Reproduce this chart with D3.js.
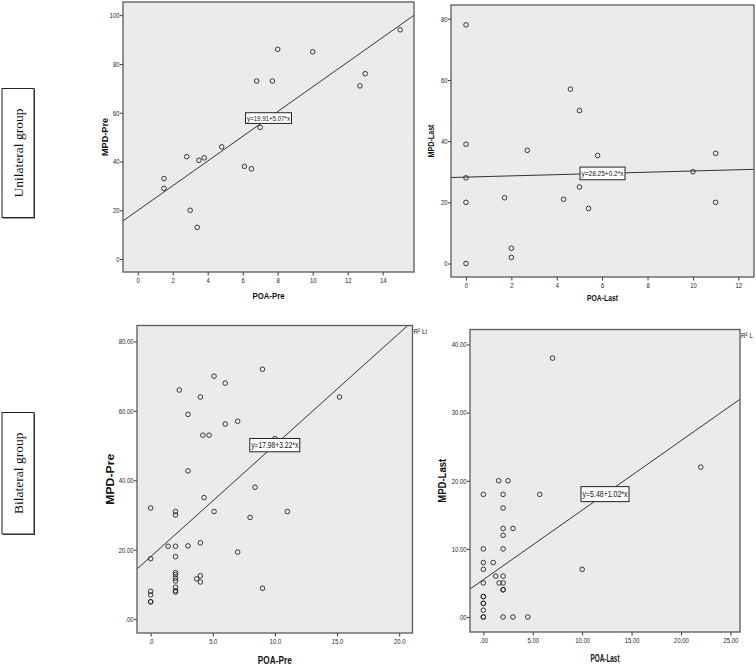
<!DOCTYPE html>
<html>
<head>
<meta charset="utf-8">
<script src="https://cdn.jsdelivr.net/npm/d3@7"></script>
<style>
  body { margin: 0; background: #fff; }
  svg { display: block; }
</style>
</head>
<body>
<svg id="chart" width="756" height="665"></svg>
<script>
// ---------- DATA ----------
const rowLabels = ["Unilateral group", "Bilateral group"];

const uniPreX = [1.5, 1.5, 2.8, 3.0, 3.4, 3.5, 3.8, 4.8, 6.1, 6.5, 6.8, 7.0, 7.7, 8.0, 10.0, 12.7, 13.0, 15.0];
const uniPreY = [33, 29, 42, 20, 13, 40.5, 41.5, 46, 38, 37, 73, 54, 73, 86, 85, 71, 76, 94];

const uniLastX = [0, 0, 0, 0, 0, 1.7, 2, 2, 2.7, 4.3, 4.6, 5, 5, 5.4, 5.8, 10, 11, 11];
const uniLastY = [78, 39, 28, 20, 0, 21.5, 5, 2, 37, 21, 57, 50, 25, 18, 35.3, 30, 36, 20];

const biPreX = [0, 0, 0, 0, 0, 0, 1.4,
  2, 2, 2, 2, 2, 2, 2, 2, 2, 2, 2,
  2.3, 3, 3, 3, 3.7, 4, 4, 4, 4, 4.2, 4.3, 4.7, 5.1, 5.1, 6, 6, 7, 7, 8, 8.4, 9, 9, 10, 11, 15.2];
const biPreY = [32, 17.4, 8, 7, 5, 5, 21,
  31, 30, 21, 18, 13.4, 12.8, 11.8, 11, 9.2, 8.2, 7.8,
  66, 59, 42.7, 21.1, 11.6, 64, 22, 12.5, 10.7, 53, 35, 53, 70, 31, 68, 56.2, 57, 19.3, 29.3, 38, 72, 8.9, 52, 31, 64];

const biLastX = [0, 0, 0, 0, 0, 0, 0, 0, 0, 0, 0, 0,
  1, 1.25, 1.55, 1.6,
  2, 2, 2, 2, 2, 2, 2, 2, 2, 2,
  2.5, 3, 3, 4.5, 5.7, 7, 10, 22];
const biLastY = [18, 10, 8, 7, 5, 3, 3, 2, 2, 1, 0, 0,
  8, 6, 20, 5,
  18, 16, 13, 12, 10, 6, 5, 4, 4, 0,
  20, 13, 0, 0, 18, 38, 7, 22];

// regression fits [intercept, slope]
const fitUniPre = [19.91, 5.07];
const fitUniLast = [28.25, 0.2];
const fitBiPre = [17.98, 3.22];
const fitBiLast = [5.48, 1.02];
const fitLabels = ["y=19.91+5.07*x", "y=28.25+0.2*x", "y=17.98+3.22*x", "y=5.48+1.02*x"];

// ticks
const ticksUniPreX = [0, 2, 4, 6, 8, 10, 12, 14];
const ticksUniPreY = [0, 20, 40, 60, 80, 100];
const ticksUniLastX = [0, 2, 4, 6, 8, 10, 12];
const ticksUniLastY = [0, 20, 40, 60, 80];
const ticksBiPreX = [0, 5, 10, 15, 20];
const tickLabelsBiPreX = [".0", "5.0", "10.0", "15.0", "20.0"];
const ticksBiPreY = [0, 20, 40, 60, 80];
const tickLabelsBiPreY = [".00", "20.00", "40.00", "60.00", "80.00"];
const ticksBiLastX = [0, 5, 10, 15, 20, 25];
const tickLabelsBiLastX = [".00", "5.00", "10.00", "15.00", "20.00", "25.00"];
const ticksBiLastY = [0, 10, 20, 30, 40];
const tickLabelsBiLastY = [".00", "10.00", "20.00", "30.00", "40.00"];

const axisTitles = [["POA-Pre", "MPD-Pre"], ["POA-Last", "MPD-Last"], ["POA-Pre", "MPD-Pre"], ["POA-Last", "MPD-Last"]];

// ---------- LAYOUT ----------
const panels = [
  { xs: uniPreX, ys: uniPreY, fit: fitUniPre, label: fitLabels[0],
    box: [123, 414, 2, 272], xd: [-0.84, 15.79], yd: [-5.3, 105.4],
    xt: ticksUniPreX, xtl: null, yt: ticksUniPreY, ytl: null, titles: axisTitles[0],
    yTitleX: 105, xTitleY: 299, r2: null,
    st: { titleFont: 9.5, xLen: 32, yLen: 38, lblFont: 7.2, lblW: 43, lblH: 10.7 } },
  { xs: uniLastX, ys: uniLastY, fit: fitUniLast, label: fitLabels[1],
    box: [451, 754, 5, 277], xd: [-0.66, 12.69], yd: [-4.4, 84.5],
    xt: ticksUniLastX, xtl: null, yt: ticksUniLastY, ytl: null, titles: axisTitles[1],
    yTitleX: 431, xTitleY: 301, r2: null,
    st: { titleFont: 9.5, xLen: 31, yLen: 33, lblFont: 7.8, lblW: 42, lblH: 12.7 } },
  { xs: biPreX, ys: biPreY, fit: fitBiPre, label: fitLabels[2],
    box: [137, 412.5, 325.5, 633], xd: [-1.1, 21.07], yd: [-4.0, 84.6],
    xt: ticksBiPreX, xtl: tickLabelsBiPreX, yt: ticksBiPreY, ytl: tickLabelsBiPreY, titles: axisTitles[2],
    yTitleX: 110, xTitleY: 664, r2: "R\u00B2 Li",
    st: { titleFont: 10, xLen: 34, yLen: 51, lblFont: 8.4, lblW: 47, lblH: 13.3 } },
  { xs: biLastX, ys: biLastY, fit: fitBiLast, label: fitLabels[3],
    box: [470, 740, 329.5, 632], xd: [-1.35, 25.97], yd: [-2.2, 42.2],
    xt: ticksBiLastX, xtl: tickLabelsBiLastX, yt: ticksBiLastY, ytl: tickLabelsBiLastY, titles: axisTitles[3],
    yTitleX: 442, xTitleY: 662, r2: "R\u00B2 L",
    st: { titleFont: 10, xLen: 29, yLen: 44, lblFont: 9, lblW: 45, lblH: 15 } }
];

const svg = d3.select("#chart");
const sans = "'Liberation Sans', Arial, sans-serif";

function condense(sel, f) {
  sel.each(function () {
    const w = this.getComputedTextLength();
    if (w > 0) d3.select(this).attr("textLength", w * f).attr("lengthAdjust", "spacingAndGlyphs");
  });
}
function fitTo(sel, len) {
  sel.attr("textLength", len).attr("lengthAdjust", "spacingAndGlyphs");
}

panels.forEach((p, i) => {
  const [x0, x1, y0, y1] = p.box;
  const st = p.st;
  const x = d3.scaleLinear().domain(p.xd).range([x0, x1]);
  const y = d3.scaleLinear().domain(p.yd).range([y1, y0]);
  const g = svg.append("g");

  g.append("rect").attr("x", x0).attr("y", y0).attr("width", x1 - x0).attr("height", y1 - y0)
    .attr("fill", "#ebebeb");

  const cid = "clip" + i;
  svg.append("defs").append("clipPath").attr("id", cid)
    .append("rect").attr("x", x0).attr("y", y0).attr("width", x1 - x0).attr("height", y1 - y0);

  const xAxis = d3.axisBottom(x).tickValues(p.xt).tickSizeInner(3.5).tickSizeOuter(0).tickPadding(2)
    .tickFormat((d, k) => p.xtl ? p.xtl[k] : d3.format("d")(d));
  const yAxis = d3.axisLeft(y).tickValues(p.yt).tickSizeInner(3).tickSizeOuter(0).tickPadding(0.5)
    .tickFormat((d, k) => p.ytl ? p.ytl[k] : d3.format("d")(d));
  const gx = g.append("g").attr("transform", `translate(0,${y1})`).call(xAxis);
  const gy = g.append("g").attr("transform", `translate(${x0},0)`).call(yAxis);
  [gx, gy].forEach(a => {
    a.select(".domain").remove();
    a.selectAll("line").attr("stroke", "#333").attr("stroke-width", 1);
    const t = a.selectAll("text").attr("font-family", sans).attr("font-size", 7.2).attr("fill", "#222");
    condense(t, 0.82);
  });

  const [b0, b1] = p.fit;
  g.append("line").attr("clip-path", `url(#${cid})`)
    .attr("x1", x(p.xd[0])).attr("y1", y(b0 + b1 * p.xd[0]))
    .attr("x2", x(p.xd[1])).attr("y2", y(b0 + b1 * p.xd[1]))
    .attr("stroke", "#333").attr("stroke-width", 1);

  g.append("g").selectAll("circle").data(p.xs.map((v, k) => [v, p.ys[k]])).join("circle")
    .attr("cx", d => x(d[0])).attr("cy", d => y(d[1])).attr("r", 2.3)
    .attr("fill", "none").attr("stroke", "#222").attr("stroke-width", 0.9);

  g.append("rect").attr("x", x0).attr("y", y0).attr("width", x1 - x0).attr("height", y1 - y0)
    .attr("fill", "none").attr("stroke", "#5a5a5a").attr("stroke-width", 1.3);

  // fit label
  const mx = (p.xd[0] + p.xd[1]) / 2;
  const lx = x(mx), ly = y(b0 + b1 * mx);
  g.append("rect")
    .attr("x", lx - st.lblW / 2 - 1.5).attr("y", ly - st.lblH / 2).attr("width", st.lblW + 3).attr("height", st.lblH)
    .attr("fill", "#fff").attr("stroke", "#222").attr("stroke-width", 1);
  const lt = g.append("text").attr("x", lx).attr("y", ly).attr("dy", "0.36em")
    .attr("text-anchor", "middle").attr("font-family", sans).attr("font-size", st.lblFont).attr("fill", "#111")
    .text(p.label);
  fitTo(lt, st.lblW);

  // axis titles
  const tx = g.append("text").attr("x", (x0 + x1) / 2).attr("y", p.xTitleY)
    .attr("text-anchor", "middle").attr("font-family", sans).attr("font-weight", "bold")
    .attr("font-size", st.titleFont).attr("fill", "#111").text(p.titles[0]);
  fitTo(tx, st.xLen);
  const ty = g.append("text").attr("transform", `translate(${p.yTitleX},${(y0 + y1) / 2}) rotate(-90)`)
    .attr("text-anchor", "middle").attr("dy", "0.35em").attr("font-family", sans).attr("font-weight", "bold")
    .attr("font-size", st.titleFont).attr("fill", "#111").text(p.titles[1]);
  fitTo(ty, st.yLen);

  if (p.r2) {
    const rt = g.append("text").attr("x", x1 + 1).attr("y", y0 + 8.5)
      .attr("font-family", sans).attr("font-size", 7.5).attr("fill", "#111").text(p.r2);
    condense(rt, 0.85);
  }
});

// row labels
const rowBoxes = [[2, 34, 88.5, 217.5], [2, 34, 412.5, 534]];
rowBoxes.forEach((b, i) => {
  const [bx0, bx1, by0, by1] = b;
  svg.append("rect").attr("x", bx0 + 1).attr("y", by0 + 1).attr("width", bx1 - bx0).attr("height", by1 - by0)
    .attr("fill", "#444");
  svg.append("rect").attr("x", bx0).attr("y", by0).attr("width", bx1 - bx0).attr("height", by1 - by0)
    .attr("fill", "#fff").attr("stroke", "#222").attr("stroke-width", 1);
  svg.append("text").attr("transform", `translate(${(bx0 + bx1) / 2},${(by0 + by1) / 2}) rotate(-90)`)
    .attr("text-anchor", "middle").attr("dy", "0.35em")
    .attr("font-family", "'Liberation Serif', 'Times New Roman', serif").attr("font-size", 13.5)
    .attr("fill", "#111").text(rowLabels[i]);
});
</script>
</body>
</html>
